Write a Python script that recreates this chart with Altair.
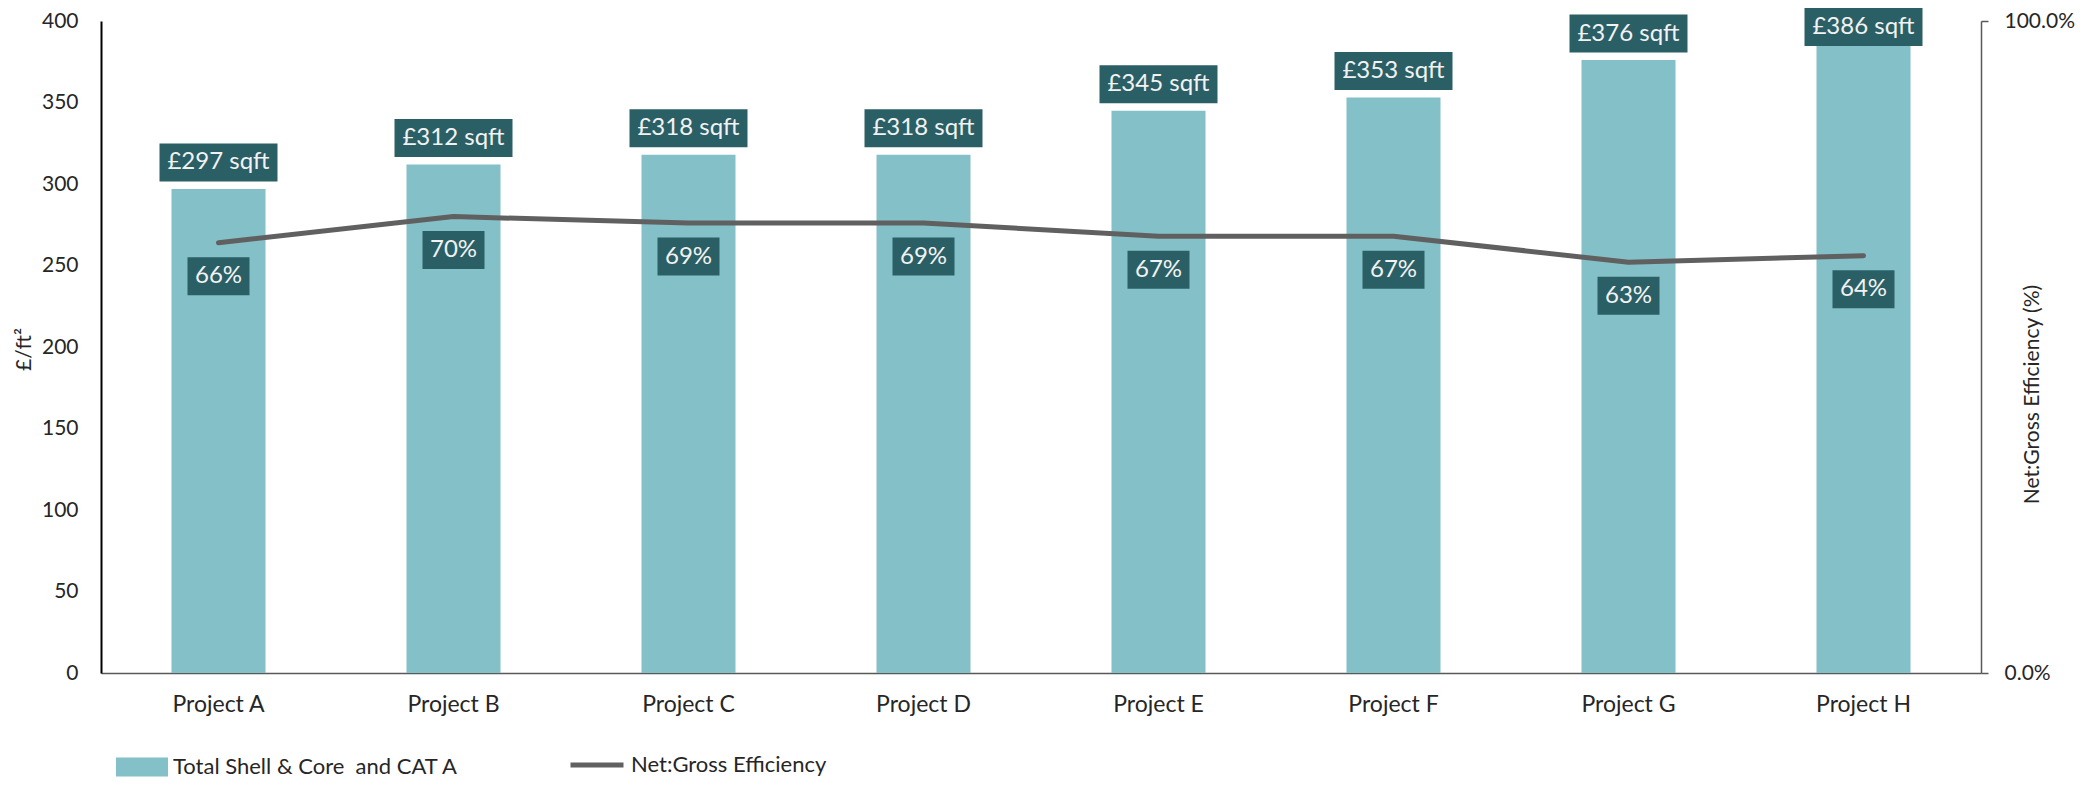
import altair as alt
import pandas as pd

projects = ["Project A", "Project B", "Project C", "Project D",
            "Project E", "Project F", "Project G", "Project H"]
cost = [297, 312, 318, 318, 345, 353, 376, 386]
efficiency = [0.66, 0.70, 0.69, 0.69, 0.67, 0.67, 0.63, 0.64]
cost_labels = ["£297 sqft", "£312 sqft", "£318 sqft", "£318 sqft",
               "£345 sqft", "£353 sqft", "£376 sqft", "£386 sqft"]
eff_labels = ["66%", "70%", "69%", "69%", "67%", "67%", "63%", "64%"]
bar_name = "Total Shell & Core\u00a0 and CAT A"
line_name = "Net:Gross Efficiency"

BAR_COLOR = "#84C0C7"
BOX_COLOR = "#2B5F66"
LINE_COLOR = "#606060"
TEXT_COLOR = "#262626"
FONT = "Lato"

df = pd.DataFrame({
    "project": projects,
    "cost": cost,
    "efficiency": efficiency,
    "cost_label": cost_labels,
    "eff_label": eff_labels,
    "bar_series": [bar_name] * len(projects),
    "line_series": [line_name] * len(projects),
})

base = alt.Chart(df)

x_axis = alt.Axis(labelAngle=0, ticks=False, domainColor="#595959", domainWidth=1.5,
                  labelFontSize=23, labelFont=FONT, labelColor=TEXT_COLOR, labelPadding=20,
                  title=None)
x_scale = alt.Scale(paddingInner=0.6, paddingOuter=0.3)


def xenc():
    return alt.X("project:N", sort=projects, title=None, scale=x_scale, axis=x_axis)


left_axis = alt.Axis(values=list(range(0, 401, 50)), grid=False, ticks=False,
                     domainColor="#000000", domainWidth=2,
                     labelFontSize=21, labelFont=FONT, labelColor=TEXT_COLOR,
                     labelPadding=23, title="£/ft²", titleFont=FONT,
                     titleFontSize=21, titleFontWeight="normal", titleColor=TEXT_COLOR,
                     titleAngle=270, titleX=-77, titleY=328,
                     titleAlign="center", titleBaseline="middle")
left_scale = alt.Scale(domain=[0, 400], nice=False)

right_axis = alt.Axis(orient="right", values=[0, 1], format=".1%", grid=False,
                      tickSize=7, tickColor="#595959", tickWidth=1.5,
                      domainColor="#595959", domainWidth=1.5,
                      labelFontSize=21, labelFont=FONT, labelColor=TEXT_COLOR,
                      labelPadding=16, title="Net:Gross Efficiency (%)", titleFont=FONT,
                      titleFontSize=21, titleFontWeight="normal", titleColor=TEXT_COLOR,
                      titleAngle=270, titleX=51, titleY=373,
                      titleAlign="center", titleBaseline="middle")
right_scale = alt.Scale(domain=[0, 1], nice=False)

bars = base.mark_bar().encode(
    x=xenc(),
    y=alt.Y("cost:Q", scale=left_scale, axis=left_axis, title="£/ft²"),
    color=alt.Color("bar_series:N", scale=alt.Scale(domain=[bar_name], range=[BAR_COLOR]),
                    legend=alt.Legend(title=None, orient="none", legendX=15, legendY=720,
                                      symbolType="M-1,-0.365L1,-0.365L1,0.365L-1,0.365Z",
                                      symbolSize=2704, symbolStrokeWidth=0,
                                      labelFontSize=22, labelFont=FONT, labelLimit=0,
                                      labelColor=TEXT_COLOR, labelOffset=5)),
)

cost_box = base.transform_calculate(label_y="min(datum.cost, 380)").mark_tick(
    orient="horizontal", size=118, thickness=38, color=BOX_COLOR, opacity=1, yOffset=-26.5
).encode(x=xenc(), y=alt.Y("label_y:Q", scale=left_scale, axis=left_axis, title="£/ft²"))

cost_text = base.transform_calculate(label_y="min(datum.cost, 380)").mark_text(
    color="#F2F2F2", fontSize=24, font=FONT, yOffset=-26.5, baseline="middle", align="center"
).encode(x=xenc(), y=alt.Y("label_y:Q", scale=left_scale, axis=left_axis, title="£/ft²"),
         text="cost_label:N")

left = alt.layer(bars, cost_box, cost_text)

line = base.mark_line(strokeWidth=5, strokeCap="round", strokeJoin="round").encode(
    x=xenc(),
    y=alt.Y("efficiency:Q", scale=right_scale, axis=right_axis,
            title="Net:Gross Efficiency (%)"),
    stroke=alt.Stroke("line_series:N", scale=alt.Scale(domain=[line_name], range=[LINE_COLOR]),
                      legend=alt.Legend(title=None, orient="none", legendX=467, legendY=715,
                                        symbolType="stroke", symbolSize=2809,
                                        symbolStrokeWidth=5, labelLimit=0,
                                        labelFontSize=22, labelFont=FONT,
                                        labelColor=TEXT_COLOR, labelOffset=5)),
)

eff_box = base.mark_tick(
    orient="horizontal", size=62, thickness=38, color=BOX_COLOR, opacity=1, yOffset=33.5
).encode(x=xenc(), y=alt.Y("efficiency:Q", scale=right_scale, axis=right_axis,
                           title="Net:Gross Efficiency (%)"))

eff_text = base.mark_text(
    color="#F2F2F2", fontSize=24, font=FONT, yOffset=33.5, baseline="middle", align="center"
).encode(x=xenc(), y=alt.Y("efficiency:Q", scale=right_scale, axis=right_axis,
                           title="Net:Gross Efficiency (%)"),
         text="eff_label:N")

right = alt.layer(line, eff_box, eff_text)

chart = alt.layer(left, right).resolve_scale(y="independent").properties(
    width=1880, height=652,
    autosize=alt.AutoSizeParams(type="none"),
    padding={"left": 93, "top": 13, "right": 105, "bottom": 106},
    background="white",
).configure_view(stroke=None)

chart.save("out.html", embed_options={"renderer": "svg", "actions": False})
